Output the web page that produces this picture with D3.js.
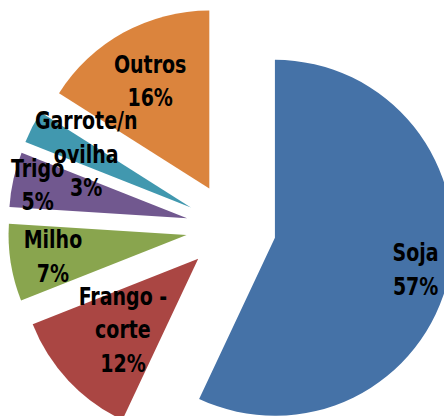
<!DOCTYPE html>
<html>
<head>
<meta charset="utf-8">
<script src="https://cdn.jsdelivr.net/npm/d3@7"></script>
<style>
  body { margin: 0; background: #fff; overflow: hidden; }
</style>
</head>
<body>
<script>
// Dados
const categorias = ["Soja", "Frango - corte", "Milho", "Trigo", "Garrote/novilha", "Outros"];
const valores = [57, 12, 7, 5, 3, 16];
const rotulos = [["Soja"], ["Frango -", "corte"], ["Milho"], ["Trigo"], ["Garrote/n", "ovilha"], ["Outros"]];
const cores = ["#4572A7", "#AA4643", "#89A54E", "#71588F", "#4198AF", "#DB843D"];

// Layout
const w = 444;
const h = 416;
const cx = 231;
const cy = 228;
const raio = 178;
const explode = 45;
const fonte = 24;
const linha = 33.5;
const estreito = 0.88; // fonte condensada
// distância do rótulo ao vértice da fatia (fração do raio)
const posRotulo = [0.81, 0.58, 0.76, 0.86, 0.66, 0.69];

const svg = d3.select("body")
    .append("svg")
    .attr("width", w)
    .attr("height", h);

const pie = d3.pie().sort(null).value(d => d);
const arcs = pie(valores);
const arc = d3.arc().innerRadius(0).outerRadius(raio);
const total = d3.sum(valores);

const g = svg.append("g").attr("transform", `translate(${cx},${cy})`);

function desloc(d) {
    const a = (d.startAngle + d.endAngle) / 2;
    return [explode * Math.sin(a), -explode * Math.cos(a)];
}

// Fatias
g.selectAll("path")
    .data(arcs)
    .enter()
    .append("path")
    .attr("d", arc)
    .attr("fill", (d, i) => cores[i])
    .attr("transform", d => {
        const [dx, dy] = desloc(d);
        return `translate(${dx},${dy})`;
    });

// Rótulos
arcs.forEach((d, i) => {
    const a = (d.startAngle + d.endAngle) / 2;
    const [dx, dy] = desloc(d);
    const k = posRotulo[i] * raio;
    const x = dx + k * Math.sin(a);
    const y = dy - k * Math.cos(a);
    const linhas = rotulos[i].concat([Math.round(valores[i] / total * 100) + "%"]);
    const y0 = y - (linhas.length - 1) * linha / 2;
    const t = g.append("text")
        .attr("transform", `translate(${x},0) scale(${estreito},1)`)
        .attr("text-anchor", "middle")
        .attr("font-family", "'DejaVu Sans Condensed', 'DejaVu Sans', sans-serif")
        .attr("font-weight", "bold")
        .attr("font-size", fonte + "px")
        .attr("fill", "#000");
    linhas.forEach((l, j) => {
        t.append("tspan")
            .attr("x", 0)
            .attr("y", y0 + j * linha + fonte * 0.36)
            .text(l);
    });
});
</script>
</body>
</html>
